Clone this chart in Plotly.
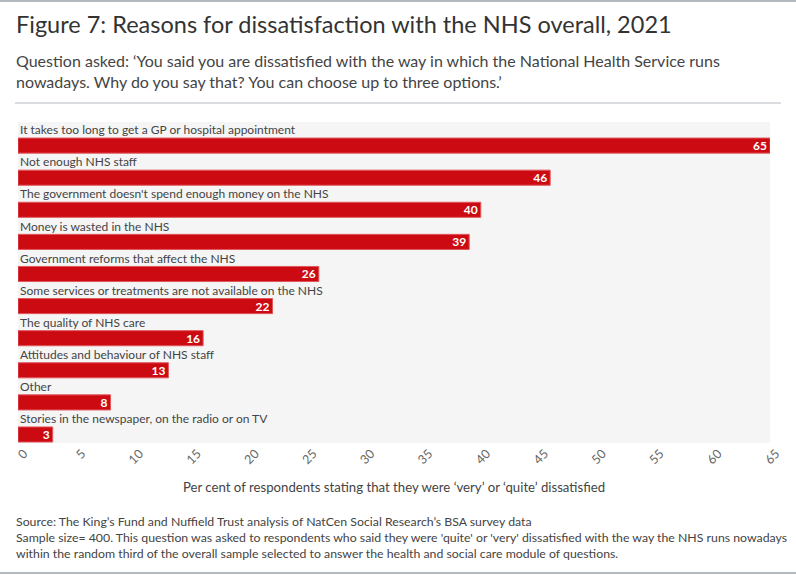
import plotly.graph_objects as go

# data
reasons = [
    "It takes too long to get a GP or hospital appointment",
    "Not enough NHS staff",
    "The government doesn't spend enough money on the NHS",
    "Money is wasted in the NHS",
    "Government reforms that affect the NHS",
    "Some services or treatments are not available on the NHS",
    "The quality of NHS care",
    "Attitudes and behaviour of NHS staff",
    "Other",
    "Stories in the newspaper, on the radio or on TV",
]
percent = [65, 46, 40, 39, 26, 22, 16, 13, 8, 3]
x_ticks = list(range(0, 70, 5))

FONT = "Lato"
RED = "#cc0a11"
W, H = 796, 575
ml, mr, mt, mb = 18, 26, 122, 132
pw, ph = W - ml - mr, H - mt - mb


def px(x, y):
    # canvas pixel -> paper coords (relative to plot area)
    return (x - ml) / pw, 1 - (y - mt) / ph


fig = go.Figure()
fig.add_trace(go.Bar(
    y=list(range(len(reasons))),
    x=percent,
    orientation="h",
    width=0.47,
    offset=0.0,
    marker=dict(color=RED, line=dict(color="#e0575c", width=1)),
    text=[str(v) for v in percent],
    textposition="inside",
    insidetextanchor="end",
    textangle=0,
    constraintext="none",
    textfont=dict(color="white", size=12, family=FONT, weight="bold"),
    hoverinfo="skip",
))

# category labels sit above each bar
for i, r in enumerate(reasons):
    fig.add_annotation(x=0, y=i - 0.26, xref="x", yref="y", text=r, showarrow=False,
                       xanchor="left", yanchor="middle", xshift=0,
                       font=dict(family=FONT, size=12, color="#444"))

# titles and notes
x, y = px(14, 24)
fig.add_annotation(x=x, y=y, xref="paper", yref="paper",
                   text="Figure 7: Reasons for dissatisfaction with the NHS overall, 2021",
                   showarrow=False, xanchor="left", yanchor="middle",
                   font=dict(family=FONT, size=23.5, color="#333"))
x, y = px(14, 71)
fig.add_annotation(x=x, y=y, xref="paper", yref="paper",
                   text="Question asked: ‘You said you are dissatisfied with the way in which the National Health Service runs<br>nowadays. Why do you say that? You can choose up to three options.’",
                   showarrow=False, xanchor="left", yanchor="middle", align="left",
                   font=dict(family=FONT, size=16, color="#444"))
x, y = px(14, 537)
fig.add_annotation(x=x, y=y, xref="paper", yref="paper",
                   text="Source: The King’s Fund and Nuffield Trust analysis of NatCen Social Research’s BSA survey data<br>"
                        "Sample size= 400. This question was asked to respondents who said they were 'quite' or 'very' dissatisfied with the way the NHS runs nowadays<br>"
                        "within the random third of the overall sample selected to answer the health and social care module of questions.",
                   showarrow=False, xanchor="left", yanchor="middle", align="left",
                   font=dict(family=FONT, size=12.3, color="#444"))

# rules
for (x0, x1, yy, w) in [(15, 781, 103, 1), (0, W, 1, 2), (0, W, 573, 2)]:
    a0, b0 = px(x0, yy)
    a1, _ = px(x1, yy)
    fig.add_shape(type="line", xref="paper", yref="paper", x0=a0, x1=a1, y0=b0, y1=b0,
                  line=dict(color="#b4b9be", width=w))

fig.update_xaxes(range=[0, 65], tickvals=x_ticks, tickangle=-45, ticklabelshift=6, showgrid=False, zeroline=False,
                 tickfont=dict(family=FONT, size=12.5, color="#666"), ticks="",
                 title=dict(text="Per cent of respondents stating that they were ‘very’ or ‘quite’ dissatisfied",
                            font=dict(family=FONT, size=13.2, color="#444"), standoff=16))
fig.update_yaxes(range=[9.5, -0.5], showticklabels=False, showgrid=False, zeroline=False)

fig.update_layout(width=W, height=H, margin=dict(l=ml, r=mr, t=mt, b=mb),
                  plot_bgcolor="#f5f5f5", paper_bgcolor="white", showlegend=False,
                  font=dict(family=FONT))

fig.write_html("out.html", config={"displayModeBar": False},
               post_script="document.body.style.margin='0';")
